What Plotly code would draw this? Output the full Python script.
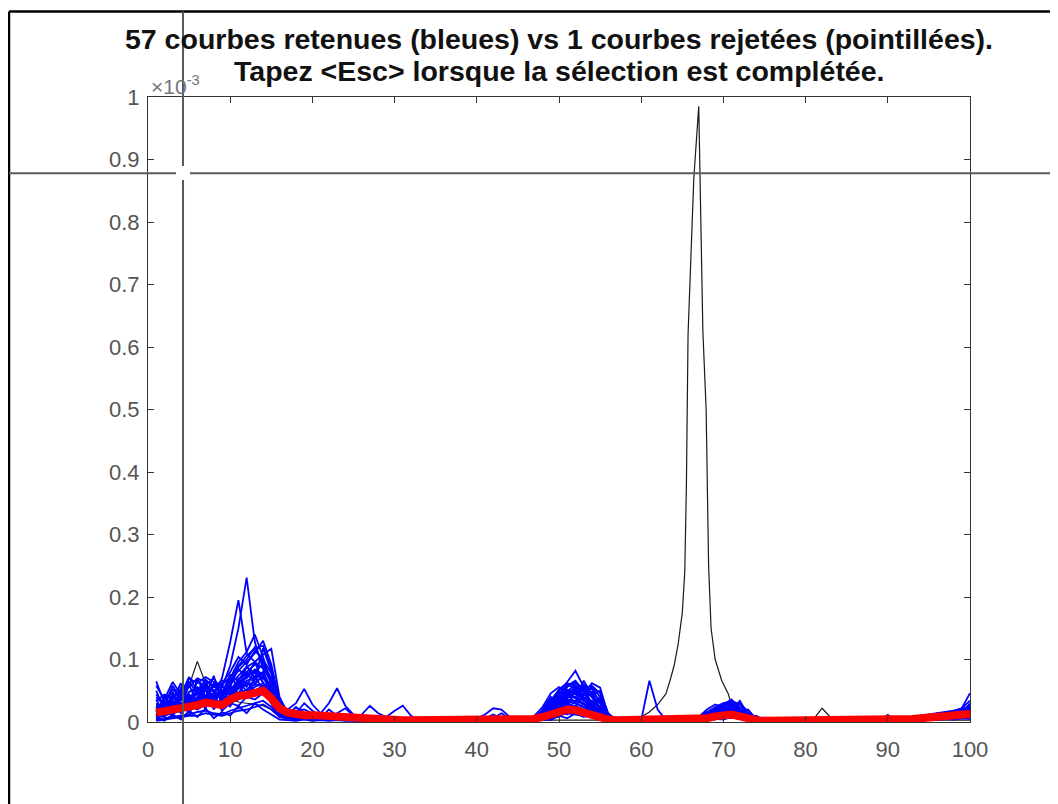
import plotly.graph_objects as go

# x positions (sample index)
x_idx = list(range(1, 101))

# values are in units of 1e-6 (axis shows x10^-3)
blue_01 = [18,22,30,26,38,44,36,40,55,90,150,231,128,84,42,14,
           9,11,14,12,9,8,10,7,6,5,5,4,4,3,
           3,3,2,2,2,3,3,2,2,3,4,3,2,2,3,
           4,6,12,22,34,42,38,30,22,11,5,3,
           3,2,2,3,2,2,2,3,3,
           5,9,14,18,16,11,6,3,2,
           2,2,2,2,2,2,2,2,2,2,2,2,2,2,
           3,3,4,5,6,7,8,10,11,13,16]
blue_02 = [12,16,24,30,33,46,52,42,70,128,195,110,96,62,30,12,
           10,9,12,11,8,9,7,6,5,5,4,4,3,3,
           3,2,2,2,3,2,2,3,3,2,3,2,2,3,3,
           5,8,14,28,40,52,46,36,26,14,6,3,
           2,2,3,2,2,2,3,2,3,
           6,10,16,20,18,12,7,3,2,
           2,2,2,2,1,2,2,2,2,2,2,2,2,2,
           2,3,3,4,5,6,7,8,10,12,14]
blue_03 = [30,18,40,25,48,56,42,38,48,70,96,112,140,104,60,22,
           20,30,53,28,14,10,9,8,6,5,5,4,4,3,
           3,3,3,2,2,2,2,2,3,3,2,2,2,2,3,
           3,5,9,18,30,44,40,34,24,10,4,3,
           2,2,2,2,2,2,2,3,4,
           4,8,13,22,20,12,6,3,2,
           2,2,2,2,2,2,2,2,2,2,2,2,2,2,
           3,3,4,5,6,8,9,10,12,14,17]
blue_04 = [8,14,20,36,28,40,50,34,44,64,82,96,110,130,92,34,
           18,12,10,9,14,30,54,26,12,8,6,5,4,4,
           3,3,2,2,2,2,3,3,2,2,3,3,2,2,2,
           3,6,11,24,38,56,64,48,32,14,5,3,
           2,2,2,2,2,2,2,2,3,
           4,7,12,16,15,10,5,3,2,
           2,2,2,2,2,2,2,2,2,2,2,2,2,2,
           2,3,3,4,5,6,8,9,11,13,15]
blue_05 = [65,30,22,28,34,30,42,46,38,60,74,88,96,108,117,40,
           14,10,9,8,7,7,6,5,5,4,4,4,3,3,
           3,2,2,2,2,2,2,3,2,2,2,2,2,2,3,
           3,5,8,16,26,34,30,24,18,9,4,3,
           2,2,2,2,2,2,2,2,3,
           5,9,15,24,22,14,7,3,2,
           2,2,2,2,2,2,2,2,2,2,2,2,2,2,
           3,4,5,6,7,9,10,12,14,16,20]
blue_06 = [20,34,28,40,32,48,38,30,26,44,58,66,72,80,50,20,
           12,10,9,8,8,7,7,6,5,5,4,4,4,3,
           3,3,2,2,2,3,2,2,2,2,2,2,3,2,3,
           4,8,16,32,50,64,82,56,40,18,6,3,
           2,2,2,2,2,2,2,3,4,
           6,12,20,26,30,18,8,4,2,
           2,2,2,2,2,2,2,2,2,2,2,2,2,2,
           3,3,4,5,6,7,9,10,12,14,18]
blue_07 = [10,12,16,22,26,20,28,34,24,36,42,48,56,62,46,18,
           10,9,8,8,7,7,6,6,5,4,4,4,3,3,
           3,2,2,2,2,2,2,2,2,2,2,2,2,2,2,
           3,4,7,12,20,28,26,20,14,8,4,2,
           2,2,3,66,20,3,2,2,3,
           4,7,11,14,13,9,5,3,2,
           2,2,2,2,2,2,2,2,2,2,2,2,2,2,
           2,3,3,4,5,6,7,8,9,11,13]
blue_08 = [14,20,26,18,30,36,40,28,32,40,46,52,60,58,44,16,
           12,10,9,9,8,8,7,6,5,5,4,4,3,3,
           3,3,3,3,3,3,3,4,5,6,12,22,20,8,3,
           4,6,10,20,34,46,50,40,30,16,6,3,
           2,2,2,2,2,2,2,2,3,
           5,10,18,28,36,20,8,4,2,
           2,2,2,2,2,2,2,2,2,2,2,2,2,2,
           3,4,5,6,8,10,12,14,18,22,46]
blue_09 = [24,16,34,22,26,52,30,26,36,50,64,70,84,76,52,26,
           14,12,10,9,8,10,8,10,8,12,26,14,8,18,
           26,10,4,3,3,2,2,2,2,2,2,2,2,3,3,
           3,5,10,22,36,48,52,60,46,22,6,3,
           2,2,2,2,2,2,2,2,3,
           4,8,14,20,18,12,6,3,2,
           2,2,2,2,2,2,2,2,2,2,2,2,2,2,
           3,3,4,5,7,8,10,11,13,15,18]
blue_10 = [6,10,14,18,22,28,34,26,22,30,36,42,48,54,38,14,
           10,9,8,8,7,7,6,6,5,5,4,4,3,3,
           3,2,2,2,2,2,2,2,2,2,2,2,2,2,3,
           3,4,8,14,24,32,30,24,16,8,4,2,
           2,2,2,2,2,2,2,2,3,
           4,6,10,14,12,8,5,3,2,
           2,2,2,2,2,2,2,2,2,2,2,2,2,2,
           2,3,3,4,5,6,7,8,9,10,12]
blue_11 = [40,26,58,36,70,62,72,64,44,56,88,100,120,96,70,30,
           16,18,20,14,10,8,7,6,6,5,5,4,4,4,
           3,3,2,2,2,3,3,3,3,4,6,8,4,3,3,
           4,7,14,30,46,60,54,44,62,55,10,3,
           2,2,2,2,2,2,2,3,4,
           6,11,18,24,26,16,8,4,2,
           2,2,2,2,2,2,2,2,2,2,2,2,2,2,
           3,4,5,6,7,9,11,13,15,18,24]
blue_12 = [4,6,8,10,12,16,18,14,12,18,22,26,30,34,24,10,
           8,7,6,6,5,5,5,4,4,4,3,3,3,3,
           2,2,2,2,2,2,2,2,2,2,2,2,2,2,2,
           2,3,6,10,16,22,20,16,12,6,3,2,
           2,2,2,2,2,2,2,2,2,
           3,5,8,10,9,6,4,2,2,
           2,2,2,2,2,2,2,2,2,2,2,2,2,2,
           2,2,3,3,4,5,5,6,7,8,10]
blue_13 = [22,28,18,44,36,50,60,48,40,66,90,106,118,122,86,28,
           12,14,30,18,10,9,14,22,10,7,6,5,4,4,
           3,3,3,2,2,2,2,2,2,2,3,4,3,2,2,
           3,5,12,26,44,58,66,50,40,30,8,3,
           2,2,2,2,2,2,2,2,3,
           5,10,16,22,20,13,7,3,2,
           2,2,2,2,2,2,2,2,2,2,2,2,2,2,
           3,3,4,5,6,8,9,11,13,15,19]
blue_14 = [16,40,24,52,30,66,56,50,34,52,68,80,92,88,64,24,
           12,10,9,8,8,7,10,8,6,5,4,4,4,3,
           3,3,2,2,2,2,2,2,2,2,2,2,2,2,3,
           3,6,12,20,32,40,56,36,28,40,5,3,
           2,2,2,2,2,2,2,2,3,
           6,12,22,30,34,20,10,4,2,
           2,2,2,2,2,2,2,2,2,2,2,2,2,2,
           3,4,4,5,7,8,10,12,16,20,26]
blue_15 = [28,22,44,30,40,34,60,70,50,46,60,74,80,70,56,22,
           14,12,10,10,9,8,8,7,6,6,5,5,4,4,
           3,3,3,3,2,2,2,2,2,2,2,2,2,2,3,
           4,6,14,24,40,50,44,38,34,24,6,3,
           2,2,2,2,2,2,2,2,3,
           4,8,14,18,17,11,6,3,2,
           2,2,2,2,2,2,2,2,2,2,2,2,2,2,
           3,3,4,5,6,7,8,10,12,14,16]
blue_16 = [10,18,12,24,20,30,26,36,30,38,54,60,64,72,58,20,
           10,9,8,7,7,6,6,5,5,5,4,4,4,3,
           3,2,2,2,2,2,2,2,2,2,2,2,2,2,2,
           3,5,8,16,28,36,34,28,20,10,4,3,
           2,2,2,2,2,2,2,2,3,
           4,7,12,16,15,10,5,3,2,
           2,2,2,2,2,2,2,2,2,2,2,2,2,2,
           2,3,3,4,5,6,7,8,10,11,13]
blue_17 = [34,44,38,48,56,70,64,58,62,80,104,92,114,100,78,30,
           16,14,12,10,9,8,8,7,6,6,5,5,4,4,
           3,3,3,2,2,2,2,3,3,3,4,6,14,5,3,
           4,7,16,34,52,62,58,52,48,34,8,3,
           2,2,2,2,2,2,2,3,3,
           5,10,18,26,24,15,8,4,2,
           2,2,2,2,2,2,2,2,2,2,2,2,2,2,
           3,4,5,6,7,8,10,12,14,17,22]
blue_18 = [2,4,6,8,10,10,14,12,10,14,18,20,24,28,20,8,
           6,5,5,4,4,4,4,3,3,3,3,3,2,2,
           2,2,2,2,2,2,2,2,2,2,2,2,2,2,2,
           2,2,4,6,10,14,12,10,8,4,2,2,
           1,1,1,1,1,1,1,1,2,
           2,4,6,8,7,5,3,2,1,
           1,1,1,1,1,1,1,1,1,1,1,1,1,1,
           1,2,2,3,3,4,4,5,5,6,8]
blue_19 = [36,12,48,20,60,28,66,30,58,42,70,56,84,62,48,16,
           10,8,12,6,9,5,8,4,6,3,5,3,4,2,
           3,2,3,2,2,2,3,2,2,2,2,2,2,2,2,
           3,8,6,30,18,44,30,58,26,36,6,2,
           2,2,2,2,2,2,2,2,3,
           3,14,8,26,12,30,6,10,2,
           2,2,2,2,2,2,2,2,2,2,2,2,2,2,
           2,6,3,9,5,12,8,16,10,20,12]
blue_20 = [10,44,16,56,22,70,40,74,30,54,40,80,60,76,36,12,
           8,12,6,10,5,8,4,6,3,5,3,4,2,3,
           2,3,2,2,2,2,2,3,2,3,6,12,6,3,2,
           2,4,14,12,38,26,52,36,48,20,8,2,
           2,2,2,2,2,2,2,2,2,
           8,4,20,14,32,16,20,4,2,
           2,2,2,2,2,2,2,2,2,2,2,2,2,2,
           4,2,8,4,10,7,14,9,18,12,30]
blue_21 = [26,8,30,14,44,24,52,20,40,24,62,38,74,50,30,8,
           6,5,6,4,5,3,4,3,3,2,3,2,2,2,
           2,2,2,2,2,2,2,2,2,2,2,2,2,2,2,
           2,3,5,10,8,22,14,30,12,16,3,2,
           2,2,2,2,2,2,2,2,2,
           2,6,4,12,6,14,4,6,2,
           2,2,2,2,2,2,2,2,2,2,2,2,2,2,
           2,4,2,6,3,8,5,10,6,12,8]
blue_22 = [50,20,36,62,26,50,34,58,46,76,52,90,70,118,80,26,
           12,24,14,10,8,7,6,6,5,5,4,4,4,3,
           3,3,3,2,2,2,2,2,3,3,3,2,2,2,3,
           3,6,20,40,28,50,38,66,44,50,12,3,
           2,2,2,2,2,2,2,2,3,
           6,16,10,28,18,34,12,8,2,
           2,2,2,2,2,2,2,2,2,2,2,2,2,2,
           3,5,4,8,6,10,9,14,12,18,28]
blue_23 = [4,22,10,30,14,36,22,46,18,30,26,40,36,46,34,10,
           6,4,6,3,5,3,4,2,3,2,3,2,2,2,
           2,2,2,2,2,2,2,2,2,2,2,2,2,2,2,
           2,3,8,6,18,12,26,16,22,8,3,2,
           2,2,2,2,2,2,2,2,2,
           3,5,9,7,14,8,10,4,2,
           2,2,2,2,2,2,2,2,2,2,2,2,2,2,
           2,3,3,5,4,6,5,8,7,9,12]
blue_24 = [58,36,64,44,72,50,68,56,66,64,84,72,96,86,66,26,
           14,10,9,8,7,7,6,5,5,4,4,4,3,3,
           3,3,2,2,2,2,2,2,2,2,2,2,2,2,3,
           4,10,24,46,56,48,62,54,58,46,14,3,
           2,2,2,2,2,2,2,3,3,
           8,20,28,24,34,28,18,6,2,
           2,2,2,2,2,2,2,2,2,2,2,2,2,2,
           3,4,6,7,9,11,13,15,18,22,34]
blue_25 = [16,30,20,36,44,34,56,40,50,36,64,50,68,80,54,18,
           10,16,12,8,6,20,10,6,5,4,4,3,3,3,
           3,2,2,2,2,2,2,2,2,2,2,2,2,2,2,
           3,5,10,18,26,38,48,42,54,30,6,2,
           2,2,2,2,2,2,2,2,2,
           4,9,16,22,24,16,10,3,2,
           2,2,2,2,2,2,2,2,2,2,2,2,2,2,
           2,3,5,6,8,9,11,13,16,18,22]
blue_26 = [8,16,34,18,42,26,38,62,44,58,46,64,50,58,42,14,
           9,8,7,6,6,5,5,4,4,4,3,3,3,3,
           2,2,2,2,2,2,2,2,2,2,2,2,2,2,2,
           3,4,6,14,22,30,24,46,30,24,5,2,
           2,2,2,2,2,2,2,2,2,
           4,8,12,18,14,20,8,3,2,
           2,2,2,2,2,2,2,2,2,2,2,2,2,2,
           2,3,4,5,6,8,9,10,12,14,16]
blue_27 = [6,2,12,4,18,8,22,6,16,10,26,14,30,20,12,4,
           3,2,4,2,3,2,3,2,2,2,2,2,2,2,
           2,2,2,2,2,2,2,2,2,2,2,2,2,2,2,
           2,2,4,3,10,6,14,8,12,4,2,2,
           1,1,1,1,1,1,1,1,1,
           2,3,5,4,8,5,6,2,1,
           1,1,1,1,1,1,1,1,1,1,1,1,1,1,
           1,2,1,3,2,4,3,5,4,6,5]
blue_28 = [44,28,52,40,64,46,58,50,60,72,66,88,78,94,60,20,
           12,10,8,8,7,6,6,5,5,4,4,4,3,3,
           3,2,2,2,2,2,2,2,2,2,2,2,2,2,2,
           3,7,18,36,48,42,58,48,56,40,10,3,
           2,2,2,2,2,2,2,2,3,
           7,16,24,30,28,24,14,5,2,
           2,2,2,2,2,2,2,2,2,2,2,2,2,2,
           3,4,5,7,8,10,12,14,16,19,25]

# rejected curve (black)
black_x = [1,2,3,4,5,6,7,8,9,10,11,12,13,14,15,16,17,18,
           20,25,30,35,40,45,50,55,
           58,59,60,61,62,63,
           63.5,64,64.5,65,65.3,65.5,65.7,66,66.4,67,
           67.5,67.9,68.2,68.5,69,69.8,70.6,71.2,72,73,74,76,
           80,81,82,83,84,89,90,91,95,100]
black_y = [20,28,30,36,58,97,62,48,40,36,32,30,28,26,20,10,6,5,
           4,3,3,3,3,3,3,3,
           3,3,8,16,28,45,
           66,90,125,175,240,380,620,720,870,985,
           626,500,250,150,100,66,45,15,8,5,4,3,
           3,5,22,8,3,3,12,3,3,3]

# mean curve (red)
red_mean = [15,17,19,21,23,27,31,29,27,36,42,43,48,50,38,22,
            15,12,11,11,10,9,9,8,6,5,5,4,4,4,
            3,3,3,3,3,3,3,3,3,3,3,3,3,3,3,
            4,5,8,12,17,20,19,15,10,6,4,3,
            3,3,3,3,3,3,3,3,3,
            4,6,9,12,12,9,5,3,2,
            2,2,2,2,2,2,2,2,2,2,2,2,2,2,
            2,3,4,5,6,7,8,9,10,11,13]

x_ticks = [0, 10, 20, 30, 40, 50, 60, 70, 80, 90, 100]
y_ticks = [0, 0.1, 0.2, 0.3, 0.4, 0.5, 0.6, 0.7, 0.8, 0.9, 1]
y_tick_text = ["0", "0.1", "0.2", "0.3", "0.4", "0.5", "0.6", "0.7", "0.8", "0.9", "1"]

cross_x = 4.26
cross_y = 0.878

blue_all = [blue_01, blue_02, blue_03, blue_04, blue_05, blue_06, blue_07, blue_08, blue_09,
            blue_10, blue_11, blue_12, blue_13, blue_14, blue_15, blue_16, blue_17, blue_18,
            blue_19, blue_20, blue_21, blue_22, blue_23, blue_24, blue_25, blue_26, blue_27,
            blue_28]
for b in blue_all:
    assert len(b) == 100, len(b)
assert len(red_mean) == 100
assert len(black_x) == len(black_y), (len(black_x), len(black_y))

fig = go.Figure()
fig.add_trace(go.Scatter(x=black_x, y=[v / 1000 for v in black_y], mode="lines",
                         line=dict(color="#1a1a1a", width=1.2), hoverinfo="skip"))
for b in blue_all:
    fig.add_trace(go.Scatter(x=x_idx, y=[v / 1000 for v in b], mode="lines",
                             line=dict(color="#0000ff", width=1.8), hoverinfo="skip"))
fig.add_trace(go.Scatter(x=x_idx, y=[v / 1000 for v in red_mean], mode="lines",
                         line=dict(color="#ff0000", width=8), hoverinfo="skip"))

tick_font = dict(family="Liberation Sans", size=22, color="#555555")
axis_common = dict(showgrid=False, zeroline=False, showline=True, mirror="ticks",
                   linecolor="#333333", linewidth=1, ticks="inside", ticklen=6,
                   tickcolor="#333333", tickfont=tick_font)
fig.update_xaxes(range=[0, 100], tickvals=x_ticks, ticklabelstandoff=8, **axis_common)
fig.update_yaxes(range=[0, 1], tickvals=y_ticks, ticktext=y_tick_text, ticklabelstandoff=3, **axis_common)

# target page coordinates of the plot area; page has an 8px body margin offset
OX, OY = 8, 7
L, R, T, B = 148, 970, 96, 721
W, H = 1058, 804
def px(p):
    return (p - L) / (R - L)
def py(p):
    return (B - p) / (B - T)

shapes = []
# figure frame
shapes.append(dict(type="line", xref="paper", yref="paper", x0=px(9), x1=px(1075), y0=py(10.5), y1=py(10.5),
                   line=dict(color="black", width=2.5)))
shapes.append(dict(type="line", xref="paper", yref="paper", x0=px(9), x1=px(9), y0=py(10.5), y1=py(830),
                   line=dict(color="black", width=2.5)))
# crosshair
cc = dict(color="#5a5a5a", width=2)
shapes.append(dict(type="line", xref="x", yref="paper", x0=cross_x, x1=cross_x, y0=py(10.5), y1=py(165), line=cc))
shapes.append(dict(type="line", xref="x", yref="paper", x0=cross_x, x1=cross_x, y0=py(179), y1=py(830), line=cc))
shapes.append(dict(type="line", xref="paper", yref="y", x0=px(9), x1=px(176), y0=cross_y, y1=cross_y, line=cc))
shapes.append(dict(type="line", xref="paper", yref="y", x0=px(190), x1=px(1075), y0=cross_y, y1=cross_y, line=cc))

title_font = dict(family="Liberation Sans", size=28.5, color="#111111")
annotations = [
    dict(text="<b>57 courbes retenues (bleues) vs 1 courbes rejetées (pointillées).</b>",
         xref="paper", yref="paper", x=0.5, y=py(38), xanchor="center", yanchor="middle",
         showarrow=False, font=title_font),
    dict(text="<b>Tapez &lt;Esc&gt; lorsque la sélection est complétée.</b>",
         xref="paper", yref="paper", x=0.5, y=py(70), xanchor="center", yanchor="middle",
         showarrow=False, font=title_font),
    dict(text="×10<sup>-3</sup>", xref="paper", yref="paper", x=px(149), y=py(84),
         xanchor="left", yanchor="middle", showarrow=False,
         font=dict(family="Liberation Sans", size=21, color="#777777")),
]

fig.update_layout(width=W, height=H,
                  margin=dict(l=L - OX, r=W - (R - OX), t=T - OY, b=H - (B - OY)),
                  paper_bgcolor="white", plot_bgcolor="white", showlegend=False,
                  shapes=shapes, annotations=annotations)
fig.write_html("out.html")
